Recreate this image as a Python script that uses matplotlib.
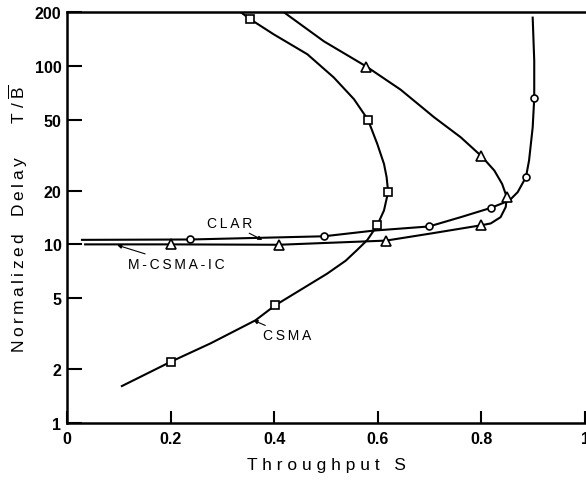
import matplotlib
matplotlib.use("Agg")
import matplotlib.pyplot as plt

plt.rcParams["font.family"] = ["Liberation Sans", "DejaVu Sans"]
plt.rcParams["mathtext.fontset"] = "custom"
plt.rcParams["mathtext.rm"] = "Liberation Sans"

# Throughput S vs normalized delay T/B for three access protocols.
# Traced curves (line) and the computed points marked on each curve.
csma_curve_s = [0.106, 0.2, 0.277, 0.364, 0.402, 0.502, 0.538, 0.56, 0.58, 0.599,
                0.612, 0.62, 0.617, 0.612, 0.599, 0.581, 0.554, 0.515, 0.464,
                0.399, 0.354, 0.335]
csma_curve_d = [1.61, 2.2, 2.79, 3.76, 4.56, 6.85, 8.1, 9.3, 10.6, 12.8,
                15.5, 19.7, 23.8, 28.2, 36.5, 49.9, 65, 86, 116,
                150, 182, 200]
csma_pts_s = [0.2, 0.402, 0.599, 0.62, 0.581, 0.354]
csma_pts_d = [2.2, 4.56, 12.8, 19.6, 49.9, 182]

mcsma_curve_s = [0.035, 0.2, 0.409, 0.616, 0.702, 0.8, 0.818, 0.837, 0.847, 0.849,
                 0.84, 0.825, 0.8, 0.76, 0.709, 0.644, 0.578, 0.496, 0.418]
mcsma_curve_d = [10.0, 10.0, 9.95, 10.5, 11.5, 12.8, 13.1, 14.2, 16.2, 18.4,
                 21.8, 25.9, 31.2, 39.8, 51.4, 73.5, 99, 137, 200]
mcsma_pts_s = [0.2, 0.409, 0.616, 0.8, 0.849, 0.8, 0.578]
mcsma_pts_d = [10.0, 9.95, 10.5, 12.8, 18.4, 31.2, 99]

clar_curve_s = [0.029, 0.238, 0.496, 0.593, 0.699, 0.76, 0.818, 0.854, 0.87,
                0.886, 0.892, 0.899, 0.902, 0.902, 0.899]
clar_curve_d = [10.6, 10.65, 11.1, 11.95, 12.6, 14.2, 16.0, 17.6, 19.6,
                23.8, 29.5, 45.2, 65.8, 106.6, 186]
clar_pts_s = [0.238, 0.496, 0.699, 0.818, 0.886, 0.902]
clar_pts_d = [10.65, 11.1, 12.6, 16.0, 23.8, 65.8]

x_ticks = [0, 0.2, 0.4, 0.6, 0.8, 1.0]
x_tick_labels = ["0", "0.2", "0.4", "0.6", "0.8", "1"]
y_ticks = [1, 2, 5, 10, 20, 50, 100, 200]
y_tick_labels = ["1", "2", "5", "10", "20", "50", "100", "200"]

fig = plt.figure(figsize=(5.86, 4.81), dpi=100)
ax = fig.add_axes([0.1143, 0.1185, 0.884, 0.8545])
ax.set_yscale("log")
ax.set_xlim(0, 1)
ax.set_ylim(1, 200)

lw = 1.5
mk = dict(mfc="white", mec="black", mew=1.2, linestyle="none", zorder=4)

ax.plot(csma_curve_s, csma_curve_d, color="black", lw=lw, zorder=3,
        solid_joinstyle="round")
ax.plot(csma_pts_s, csma_pts_d, marker="s", ms=6, **mk)

ax.plot(mcsma_curve_s, mcsma_curve_d, color="black", lw=lw, zorder=3,
        solid_joinstyle="round")
ax.plot(mcsma_pts_s, mcsma_pts_d, marker="^", ms=6.5, **mk)

ax.plot(clar_curve_s, clar_curve_d, color="black", lw=lw, zorder=3,
        solid_joinstyle="round")
ax.plot(clar_pts_s, clar_pts_d, marker="o", ms=5, **mk)

# Curve labels with small pointer arrows
ts = "\u2009"
arrow = dict(arrowstyle="-|>", lw=0.8, color="black", mutation_scale=6,
             shrinkA=0, shrinkB=0)
lab = dict(fontsize=10, color="black", va="center", ha="left")
ax.annotate(ts.join("CLAR"), xy=(0.377, 10.6), xytext=(0.271, 13.1),
            arrowprops=arrow, **lab)
ax.annotate(ts.join("M-CSMA-IC"), xy=(0.097, 9.9), xytext=(0.118, 7.8),
            arrowprops=arrow, **lab)
ax.annotate(ts.join("CSMA"), xy=(0.36, 3.76), xytext=(0.379, 3.1),
            arrowprops=arrow, **lab)

# Axes styling
ax.spines["right"].set_visible(False)
for side in ("left", "bottom", "top"):
    ax.spines[side].set_linewidth(1.8)

tick_font = dict(fontsize=11.5, fontweight="bold", family=["Liberation Sans"])
ax.set_xticks(x_ticks)
ax.set_xticklabels(x_tick_labels, **tick_font)
ax.set_yticks(y_ticks)
ax.set_yticklabels(y_tick_labels, **tick_font)
ax.minorticks_off()
ax.tick_params(axis="y", direction="in", length=11, width=1.5, pad=4)
ax.tick_params(axis="x", direction="in", length=9, width=1.5, pad=6)

ax.set_xlabel(" ".join("Throughput") + "   S", fontsize=12.5)
ax.set_ylabel(ts.join("Normalized") + "\u2003" + ts.join("Delay")
              + "\u2003\u2003T / $\\overline{\\mathrm{B}}$", fontsize=12.5)
ax.xaxis.set_label_coords(0.5, -0.082)
ax.yaxis.set_label_coords(-0.072, 0.5)

fig.savefig("out.png", dpi=100)
